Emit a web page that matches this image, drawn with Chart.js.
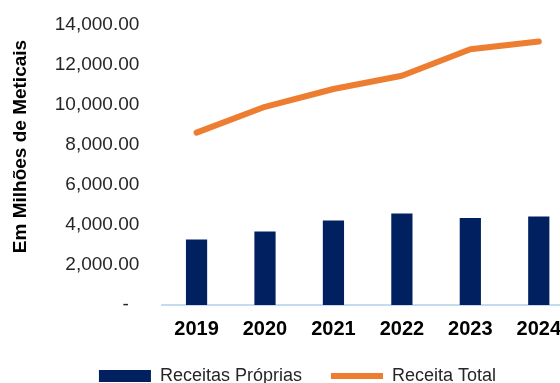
<!DOCTYPE html>
<html>
<head>
<meta charset="utf-8">
<script src="https://cdn.jsdelivr.net/npm/chart.js@4"></script>
<style>
  html, body { margin: 0; padding: 0; background: #fff; overflow: hidden; }
  #wrap { width: 595px; height: 395px; }
</style>
</head>
<body>
<div id="wrap"><canvas id="receitasChart"></canvas></div>
<script>
// anos e receitas (milhões de meticais)
var anos = ['2019', '2020', '2021', '2022', '2023', '2024'];
var receitasProprias = [3270, 3670, 4230, 4580, 4350, 4430];
var receitaTotal = [8620, 9910, 10800, 11460, 12790, 13170];
var eixoY = { min: 0, max: 14000, passo: 2000 };

document.addEventListener("DOMContentLoaded", function () {
    var ctx = document.getElementById('receitasChart').getContext('2d');

    var receitasChart = new Chart(ctx, {
        type: 'bar',
        data: {
            labels: anos,
            datasets: [{
                label: 'Receitas Próprias',
                data: receitasProprias,
                backgroundColor: '#002060',
                borderWidth: 0,
                barPercentage: 0.31,
                categoryPercentage: 1,
                pointStyle: 'rect'
            }, {
                type: 'line',
                label: 'Receita Total',
                data: receitaTotal,
                borderColor: '#ED7D31',
                backgroundColor: '#ED7D31',
                borderWidth: 6,
                borderCapStyle: 'round',
                borderJoinStyle: 'round',
                pointRadius: 0,
                tension: 0,
                pointStyle: 'line'
            }]
        },
        options: {
            responsive: true,
            maintainAspectRatio: false,
            animation: false,
            layout: { padding: { left: 22, right: 22, top: 0, bottom: 0 } },
            plugins: {
                tooltip: { enabled: false },
                legend: {
                    position: 'bottom',
                    labels: {
                        usePointStyle: true,
                        pointStyleWidth: 52,
                        boxHeight: 12,
                        padding: 14,
                        color: '#262626',
                        font: { family: 'Liberation Sans', size: 18 },
                        // espaço extra entre os dois itens da legenda
                        generateLabels: function (chart) {
                            var itens = Chart.defaults.plugins.legend.labels.generateLabels(chart);
                            itens[0].text += '   ';
                            return itens;
                        }
                    }
                }
            },
            scales: {
                x: {
                    grid: { display: false, drawTicks: false },
                    border: { display: true, color: '#C6DBF0', width: 2 },
                    ticks: {
                        color: '#000',
                        padding: 12,
                        font: { family: 'Liberation Sans', size: 20, weight: 'bold' }
                    }
                },
                y: {
                    min: eixoY.min,
                    max: eixoY.max,
                    grid: { display: false, drawTicks: false },
                    border: { display: false },
                    // o padding dos ticks não deve empurrar o topo da área do gráfico
                    afterFit: function (escala) {
                        escala.paddingTop = 25;
                    },
                    ticks: {
                        stepSize: eixoY.passo,
                        padding: 23,
                        color: '#262626',
                        font: { family: 'Liberation Sans', size: 19 },
                        callback: function (v) {
                            if (v === 0) return '-  ';
                            return v.toLocaleString('en-US', { minimumFractionDigits: 2, maximumFractionDigits: 2 });
                        }
                    },
                    title: {
                        display: true,
                        text: '       Em Milhões de Meticais',
                        color: '#000',
                        padding: { top: -13, bottom: 0 },
                        font: { family: 'Liberation Sans', size: 19, weight: 'bold' }
                    }
                }
            }
        }
    });
});
</script>
</body>
</html>
